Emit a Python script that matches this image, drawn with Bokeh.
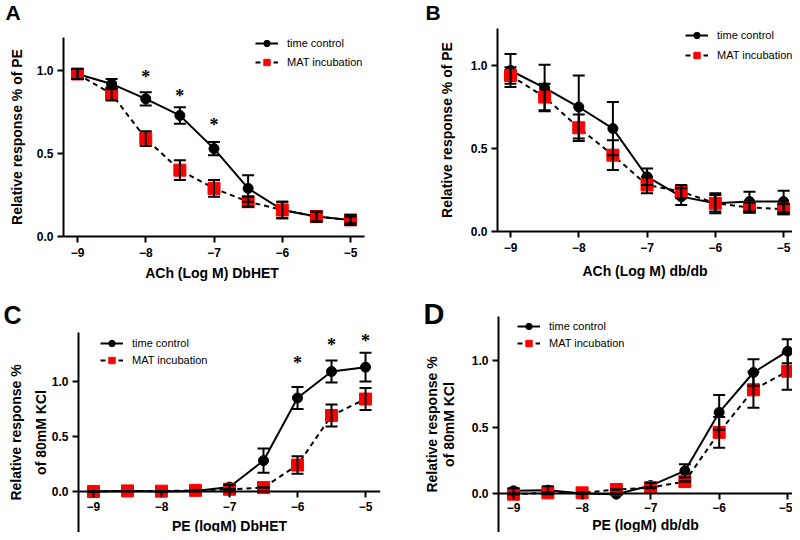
from bokeh.plotting import figure
from bokeh.layouts import column, row
from bokeh.models import (ColumnDataSource, Whisker, TeeHead, Legend, LegendItem,
                          FixedTicker, PrintfTickFormatter, LabelSet, Range1d, Title)
from bokeh.embed import file_html
from bokeh.resources import INLINE

# ---------------- data ----------------
conc = [-9, -8.5, -8, -7.5, -7, -6.5, -6, -5.5, -5]
x_ticks = [-9, -8, -7, -6, -5]
y_ticks = [0, 0.5, 1.0]

A_tc = [0.98, 0.92, 0.83, 0.73, 0.53, 0.29, 0.16, 0.12, 0.10]
A_tc_err = [0.03, 0.03, 0.04, 0.05, 0.04, 0.08, 0.05, 0.03, 0.03]
A_mat = [0.98, 0.86, 0.59, 0.40, 0.29, 0.21, 0.16, 0.12, 0.10]
A_mat_err = [0.03, 0.04, 0.045, 0.06, 0.05, 0.03, 0.05, 0.03, 0.02]
A_star_x = [-8, -7.5, -7]
A_star_y = [0.96, 0.85, 0.67]

B_tc = [0.97, 0.865, 0.75, 0.62, 0.33, 0.21, 0.17, 0.18, 0.18]
B_tc_err = [0.10, 0.14, 0.19, 0.16, 0.05, 0.05, 0.06, 0.06, 0.065]
B_mat = [0.94, 0.81, 0.625, 0.46, 0.28, 0.24, 0.17, 0.145, 0.135]
B_mat_err = [0.05, 0.08, 0.08, 0.09, 0.05, 0.04, 0.05, 0.03, 0.03]

C_tc = [0.0, 0.005, 0.0, 0.005, 0.04, 0.28, 0.85, 1.09, 1.13]
C_tc_err = [0.0, 0.0, 0.0, 0.0, 0.02, 0.11, 0.10, 0.10, 0.13]
C_mat = [0.0, 0.005, 0.003, 0.01, 0.02, 0.035, 0.24, 0.69, 0.84]
C_mat_err = [0.0, 0.0, 0.0, 0.0, 0.0, 0.0, 0.08, 0.10, 0.10]
C_star_x = [-6, -5.5, -5]
C_star_y = [1.17, 1.33, 1.37]

D_tc = [0.02, 0.025, 0.0, -0.005, 0.06, 0.17, 0.61, 0.91, 1.07]
D_tc_err = [0.02, 0.03, 0.0, 0.0, 0.02, 0.05, 0.13, 0.10, 0.09]
D_mat = [-0.005, 0.005, 0.005, 0.03, 0.045, 0.09, 0.46, 0.78, 0.92]
D_mat_err = [0.0, 0.0, 0.0, 0.0, 0.0, 0.0, 0.115, 0.135, 0.14]

labels = ["time control", "MAT incubation"]

FONT = "Liberation Sans"


def panel(letter, tc, tc_err, mat, mat_err, xlabel, ylabel,
          width, height, borders, xr, yr, legend_loc, legend_spacing,
          letter_spec, ylab_standoff, xlab_standoff, tick_standoff, ylab_lh,
          fixed_x, stars=None):
    left, right, top, bottom = borders
    p = figure(width=width, height=height, output_backend="svg",
               toolbar_location=None, x_range=Range1d(*xr), y_range=Range1d(*yr),
               min_border_left=left, min_border_right=right,
               min_border_top=top, min_border_bottom=bottom)
    p.outline_line_color = None
    p.xgrid.visible = False
    p.ygrid.visible = False
    p.background_fill_color = "white"
    p.border_fill_color = "white"

    # panel letter (title in the "above" panel)
    size, offset, valign, standoff, spacer = letter_spec
    p.title.text = ""
    p.title_location = None
    if spacer is not None:
        p.add_layout(Title(text=" ", text_font_size="1px", standoff=spacer), "above")
    p.add_layout(Title(text=letter, text_font=FONT, text_font_style="bold",
                       text_font_size=size, text_color="black", align="left",
                       offset=offset, vertical_align=valign, standoff=standoff),
                 "above")

    for ax in (p.xaxis[0], p.yaxis[0]):
        ax.axis_line_width = 2
        ax.axis_line_color = "black"
        ax.major_tick_line_width = 2
        ax.major_tick_line_color = "black"
        ax.major_tick_out = 6
        ax.major_tick_in = 0
        ax.minor_tick_line_color = None
        ax.major_label_text_font = FONT
        ax.major_label_text_font_style = "bold"
        ax.major_label_text_font_size = "12px"
        ax.major_label_text_color = "black"
        ax.axis_label_text_font = FONT
        ax.axis_label_text_font_style = "bold"
        ax.axis_label_text_font_size = "14px"
        ax.axis_label_text_color = "black"
    p.yaxis[0].axis_label_text_line_height = ylab_lh
    p.xaxis[0].ticker = FixedTicker(ticks=x_ticks)
    p.yaxis[0].ticker = FixedTicker(ticks=y_ticks)
    p.yaxis[0].formatter = PrintfTickFormatter(format="%.1f")
    p.xaxis[0].axis_label = xlabel
    p.yaxis[0].axis_label = ylabel
    p.xaxis[0].major_label_standoff = tick_standoff
    p.yaxis[0].major_label_standoff = 4
    p.xaxis[0].axis_label_standoff = xlab_standoff
    p.yaxis[0].axis_label_standoff = ylab_standoff
    if fixed_x:
        p.xaxis[0].fixed_location = 0

    src_tc = ColumnDataSource(dict(x=conc, y=tc,
                                   lo=[a - b for a, b in zip(tc, tc_err)],
                                   hi=[a + b for a, b in zip(tc, tc_err)]))
    src_mat = ColumnDataSource(dict(x=conc, y=mat,
                                    lo=[a - b for a, b in zip(mat, mat_err)],
                                    hi=[a + b for a, b in zip(mat, mat_err)]))

    l_tc = p.line("x", "y", source=src_tc, line_color="black", line_width=2)
    l_mat = p.line("x", "y", source=src_mat, line_color="black", line_width=2,
                   line_dash="5 4")
    for src in (src_tc, src_mat):
        w = Whisker(base="x", lower="lo", upper="hi", source=src,
                    line_color="black", line_width=2, level="glyph",
                    upper_head=TeeHead(size=12, line_width=2, line_color="black"),
                    lower_head=TeeHead(size=12, line_width=2, line_color="black"))
        p.add_layout(w)
    s_tc = p.scatter("x", "y", source=src_tc, marker="circle", size=10,
                     fill_color="black", line_color="black")
    s_mat = p.scatter("x", "y", source=src_mat, marker="square", size=12,
                      fill_color="#ff0000", line_color="#ff0000")

    leg = Legend(items=[LegendItem(label=labels[0], renderers=[l_tc, s_tc]),
                        LegendItem(label=labels[1], renderers=[l_mat, s_mat])],
                 location=legend_loc, padding=0, margin=0, spacing=legend_spacing,
                 glyph_width=23, glyph_height=16, label_height=16,
                 label_standoff=9, label_text_font=FONT,
                 label_text_font_size="11px", label_text_color="black",
                 background_fill_alpha=0, border_line_color=None)
    p.add_layout(leg)

    if stars is not None:
        ssrc = ColumnDataSource(dict(x=stars[0], y=stars[1], t=["*"] * len(stars[0])))
        p.add_layout(LabelSet(x="x", y="y", text="t", source=ssrc,
                              text_font=FONT, text_font_style="bold",
                              text_font_size="18px", text_align="center",
                              text_baseline="middle", text_color="black"))
    return p


pA = panel("A", A_tc, A_tc_err, A_mat, A_mat_err, "ACh (Log M)  DbHET",
           "Relative response % of PE",
           396, 284, (63, 32, 37, 48), (-9.205, -4.795), (0, 1.2),
           (192, 166), 3, ("21px", -58, "top", 0, 9), 9, 5, 5, 1.05, False,
           stars=(A_star_x, A_star_y))
pB = panel("B", B_tc, B_tc_err, B_mat, B_mat_err, "ACh (Log M) db/db",
           "Relative response % of PE",
           396, 284, (101, 0, 28, 53), (-9.19, -4.87), (0, 1.223),
           (188, 168), 4, ("21px", -72, "top", 0, 0), 13, 8, 5, 1.05, False)
pC = panel("C", C_tc, C_tc_err, C_mat, C_mat_err, "PE (logM) DbHET",
           "Relative response %\nof 80mM KCl",
           396, 248, (78, 16, 48, 0), (-9.22, -4.78), (-0.373, 1.445),
           (22, 164), 1, ("25px", -75, "bottom", 8, None), 0, 3, 5, 1.55, True,
           stars=(C_star_x, C_star_y))
pD = panel("D", D_tc, D_tc_err, D_mat, D_mat_err, "PE (logM) db/db",
           "Relative response %\nof 80mM KCl",
           396, 248, (102, 0, 32, 0), (-9.22, -4.93), (-0.293, 1.331),
           (19, 181), 1, ("29px", -75, "bottom", -26, None), 12, 2, 3, 1.05, True)

layout = column(row(column(pA), column(pB)), row(column(pC), column(pD)))
open("out.html", "w").write(file_html(layout, INLINE))
